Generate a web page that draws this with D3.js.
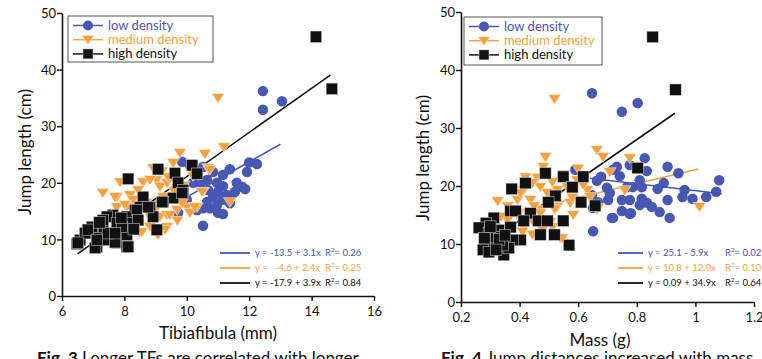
<!DOCTYPE html>
<html><head><meta charset="utf-8">
<script src="https://cdn.jsdelivr.net/npm/d3@7"></script>
<style>
body{margin:0;background:#fff;}
svg{display:block;font-family:Lato,"Open Sans",sans-serif;}
</style></head><body>
<svg id="c" width="762" height="359"></svg>
<script>
// ---------- DATA ----------
const seriesNames = ["low density","medium density","high density"];
const yTicks = [0,10,20,30,40,50];
const leftXTicks = [6,8,10,12,14,16];
const rightXTicks = [0.2,0.4,0.6,0.8,1,1.2];
const rightXTickLabels = ["0.2","0.4","0.6","0.8","1","1.2"];

// Panel 1: Tibiafibula (mm) vs jump length (cm)
const leftLow = [[12.44,36.2],[13.05,34.4],[12.44,32.9],[12.25,23.3],[11.93,21.9],[11.38,22.4],[11.16,21.4],[10.84,21.9],[10.65,20.5],[10.97,20.0],[11.16,19.4],[11.6,20.0],[11.77,19.3],[11.87,18.9],[11.45,17.8],[11.29,17.8],[11.0,18.4],[10.68,18.7],[10.42,19.6],[10.2,20.0],[9.85,23.7],[10.1,23.1],[10.52,22.8],[10.65,16.6],[10.52,15.5],[10.74,15.5],[10.97,16.1],[11.16,17.0],[11.38,16.4],[11.0,14.7],[11.16,14.5],[10.33,15.2],[10.0,17.0],[9.72,14.7],[10.52,12.4],[10.26,21.9],[10.84,17.5],[11.54,18.4],[12.0,23.6]];
const leftMed = [[11.0,35.0],[9.78,25.3],[10.58,25.1],[11.19,26.3],[9.56,23.5],[10.68,22.6],[10.74,22.3],[8.92,22.6],[9.04,20.5],[8.6,20.1],[8.82,20.5],[7.86,20.1],[7.31,18.2],[7.76,17.5],[8.18,17.8],[8.44,18.7],[9.14,19.3],[9.37,20.0],[9.24,17.5],[8.08,15.7],[8.82,14.0],[9.14,14.0],[9.37,14.3],[9.69,15.2],[10.0,15.7],[10.33,15.7],[10.1,14.7],[9.37,12.2],[8.82,12.2],[8.5,11.3],[9.04,11.1],[11.38,16.6],[10.52,18.4],[9.4,21.0],[8.27,17.0],[7.76,15.7],[8.08,14.3],[8.02,16.1],[8.56,11.3],[9.3,11.7],[9.08,10.8],[9.46,14.3],[10.26,15.7],[10.49,18.4],[8.98,15.2],[9.85,16.4],[7.7,17.5],[9.6,18.5],[9.9,19.5],[8.7,16.5],[10.2,21.2],[9.2,22.0],[8.4,14.5],[9.7,13.3]];
const leftHigh = [[9.08,22.4],[8.12,20.7],[10.17,23.1],[10.33,21.6],[9.62,21.7],[9.72,20.0],[9.88,18.7],[9.56,17.3],[9.24,16.6],[8.6,17.5],[8.82,15.7],[8.5,15.7],[8.34,15.2],[8.92,14.0],[9.04,11.7],[7.63,14.3],[7.44,14.0],[8.08,14.0],[7.76,12.9],[7.31,12.0],[6.99,12.0],[6.8,11.1],[6.58,9.9],[6.48,9.2],[7.12,8.7],[7.76,9.4],[8.08,8.7],[7.54,10.8],[7.92,11.1],[8.18,12.9],[7.12,10.2],[7.44,9.9],[9.85,18.2],[8.4,15.2],[8.76,15.7],[8.44,13.4],[7.31,13.4],[6.96,12.2],[6.74,11.1],[6.51,9.4],[7.06,8.5],[7.7,9.5],[8.12,8.7],[8.08,10.8],[7.47,11.1],[7.92,12.2],[6.83,11.7],[7.12,9.9],[7.7,11.1],[14.14,45.8],[14.65,36.6],[9.21,16.6],[7.2,13.0],[7.9,13.8],[8.3,11.8]];

// Panel 2: Mass (g) vs jump length (cm)
const rightLow = [[0.647,36.0],[0.803,34.3],[0.749,32.8],[0.827,24.8],[0.905,23.3],[0.942,22.2],[1.081,21.0],[1.071,19.0],[0.99,17.8],[0.963,19.3],[0.956,18.1],[0.892,20.5],[0.871,19.5],[0.834,22.6],[0.81,21.0],[0.817,19.8],[0.786,19.8],[0.766,19.8],[0.742,21.7],[0.719,22.8],[0.732,23.3],[0.776,23.6],[0.678,21.6],[0.664,20.9],[0.698,19.7],[0.708,18.8],[0.702,17.6],[0.749,17.6],[0.776,17.6],[0.817,17.8],[0.834,17.1],[0.851,16.4],[0.81,16.7],[0.878,15.5],[0.749,15.7],[0.776,15.2],[0.719,14.5],[0.912,14.5],[0.905,17.6],[0.651,12.2],[0.59,22.8],[0.647,18.4],[0.668,17.2],[0.651,16.2],[1.037,18.1],[0.78,15.3],[0.715,14.5]];
const rightMed = [[0.519,35.0],[0.664,26.2],[0.685,25.0],[0.776,24.8],[0.488,25.0],[0.481,23.3],[0.708,22.4],[0.759,19.3],[1.014,16.4],[0.325,17.4],[0.461,21.4],[0.471,19.8],[0.414,19.3],[0.393,17.6],[0.437,17.6],[0.495,18.8],[0.529,19.3],[0.563,19.8],[0.597,21.0],[0.631,19.3],[0.607,17.6],[0.573,17.1],[0.529,16.4],[0.495,17.1],[0.471,15.9],[0.427,15.3],[0.393,15.0],[0.359,14.1],[0.336,14.7],[0.447,13.8],[0.505,13.8],[0.549,14.1],[0.583,15.0],[0.641,18.1],[0.664,15.9],[0.539,11.0],[0.478,12.4],[0.414,12.8],[0.41,12.1],[0.444,11.6],[0.546,11.0],[0.512,12.9],[0.471,15.3],[0.668,16.2],[0.403,18.8],[0.444,20.5],[0.512,20.7],[0.617,20.2],[0.55,22.0],[0.6,23.0],[0.42,21.5],[0.58,18.0],[0.36,16.5],[0.52,16.0],[0.45,16.5]];
const rightHigh = [[0.854,45.7],[0.932,36.6],[0.803,23.1],[0.488,22.2],[0.549,21.6],[0.617,21.6],[0.42,20.5],[0.373,19.5],[0.522,18.3],[0.58,19.8],[0.498,17.2],[0.61,17.2],[0.658,16.6],[0.369,15.7],[0.386,15.7],[0.437,15.3],[0.414,14.0],[0.464,14.0],[0.495,14.0],[0.549,14.0],[0.471,11.6],[0.519,11.6],[0.569,9.8],[0.312,14.5],[0.285,13.6],[0.261,12.8],[0.295,11.9],[0.329,12.4],[0.369,12.9],[0.403,10.7],[0.376,10.7],[0.308,10.3],[0.275,9.0],[0.295,8.6],[0.346,8.1],[0.363,9.3],[0.342,9.8],[0.319,11.2],[0.3,13.0],[0.33,10.8],[0.28,11.0],[0.35,11.5],[0.32,9.0]];

// regression fits: intercept, slope, x-range, label
const leftFits = [
  {a:-13.5,b:3.1,x0:9.85,x1:13.0,eq:"y = -13.5 + 3.1x",r2:"0.26"},
  {a:-4.6,b:2.4,x0:7.3,x1:11.4,eq:"y =   -4.6 + 2.4x",r2:"0.25"},
  {a:-17.9,b:3.9,x0:6.5,x1:14.6,eq:"y = -17.9 + 3.9x",r2:"0.84"}];
const rightFits = [
  {a:25.1,b:-5.9,x0:0.64,x1:1.09,eq:"y = 25.1 - 5.9x",r2:"0.02"},
  {a:10.8,b:12.0,x0:0.33,x1:1.01,eq:"y = 10.8 + 12.0x",r2:"0.10"},
  {a:0.09,b:34.9,x0:0.27,x1:0.93,eq:"y = 0.09 + 34.9x",r2:"0.64"}];

// ---------- STYLE ----------
const colors = ["#4757b4","#f7a03c","#111111"];
const svg = d3.select("#c");

function marker(g, type, x, y, s){
  if(type===0){
    g.append("circle").attr("cx",x).attr("cy",y).attr("r",s*0.5).attr("fill",colors[0]);
  } else if(type===1){
    const w=s*0.55, h=s*0.85;
    g.append("path").attr("d",`M${x-w},${y-h*0.45}L${x+w},${y-h*0.45}L${x},${y+h*0.55}Z`)
      .attr("fill",colors[1]).attr("stroke","#fff").attr("stroke-width",0.5);
  } else {
    g.append("rect").attr("x",x-s*0.5).attr("y",y-s*0.5).attr("width",s).attr("height",s)
      .attr("fill",colors[2]).attr("stroke","#ddd").attr("stroke-width",0.5);
  }
}

function panel(cfg){
  const g = svg.append("g");
  const x = d3.scaleLinear().domain(cfg.xd).range(cfg.xr);
  const y = d3.scaleLinear().domain([0,50]).range(cfg.yr);

  // regression lines (below points)
  cfg.fits.forEach((f,i)=>{
    g.append("line").attr("x1",x(f.x0)).attr("y1",y(f.a+f.b*f.x0))
      .attr("x2",x(f.x1)).attr("y2",y(f.a+f.b*f.x1))
      .attr("stroke",colors[i]).attr("stroke-width",1.6);
  });
  // points
  const pts = g.append("g");
  cfg.data[0].forEach(d=>marker(pts,0,x(d[0]),y(d[1]),10.5));
  cfg.data[1].forEach(d=>marker(pts,1,x(d[0]),y(d[1]),11.5));
  cfg.data[2].forEach(d=>marker(pts,2,x(d[0]),y(d[1]),11.5));

  // axes
  const ax = g.append("g").attr("transform",`translate(0,${cfg.yr[0]})`)
    .call(d3.axisBottom(x).tickValues(cfg.xt).tickFormat((d,i)=>cfg.xl[i]).tickSize(5).tickSizeOuter(0));
  const ay = g.append("g").attr("transform",`translate(${cfg.xr[0]},0)`)
    .call(d3.axisLeft(y).tickValues(yTicks).tickSize(5).tickSizeOuter(0));
  [ax,ay].forEach(a=>{
    a.select(".domain").attr("stroke","#111").attr("stroke-width",1.6);
    a.selectAll(".tick line").attr("stroke","#111").attr("stroke-width",1.4);
    a.selectAll(".tick text").attr("fill","#111").style("font-size","13px").style("font-family","Lato,sans-serif");
  });
  ax.selectAll(".tick text").attr("dy",cfg.xdy);
  ay.selectAll(".tick text").attr("x",-6).attr("dy","0.36em");

  // axis titles
  g.append("text").attr("x",cfg.xtx).attr("y",cfg.xty).attr("text-anchor","middle")
    .style("font-size","17px").attr("fill","#111").text(cfg.xtitle);
  g.append("text").attr("transform",`translate(${cfg.ytx},${cfg.yty}) rotate(-90)`)
    .attr("text-anchor","middle").style("font-size","17px").attr("fill","#111").text("Jump length (cm)");

  // legend
  const L = cfg.leg;
  g.append("rect").attr("x",L.x).attr("y",L.y).attr("width",L.w).attr("height",L.h)
    .attr("fill","#fff").attr("stroke","#555").attr("stroke-width",1);
  seriesNames.forEach((n,i)=>{
    const yy = L.y+9.5+i*14.2;
    g.append("line").attr("x1",L.x+5).attr("x2",L.x+35).attr("y1",yy).attr("y2",yy)
      .attr("stroke",colors[i]).attr("stroke-width",1.5);
    marker(g,i,L.x+20,yy,i===0?10:(i===1?11:10));
    g.append("text").attr("x",L.x+40).attr("y",yy+4.3).style("font-size","13px")
      .attr("fill",i===2?"#111":colors[i]).text(n);
  });

  // regression legend
  const R = cfg.reg;
  cfg.fits.forEach((f,i)=>{
    const yy = R.y+i*15;
    g.append("line").attr("x1",R.x).attr("x2",R.x+R.len).attr("y1",yy).attr("y2",yy)
      .attr("stroke",colors[i]).attr("stroke-width",1.8);
    const c = i===2?"#111":colors[i];
    g.append("text").attr("x",R.x+R.len+5).attr("y",yy+3.3).style("font-size","9.5px")
      .style("white-space","pre").attr("xml:space","preserve").attr("fill",c).text(f.eq);
    const t = g.append("text").attr("x",R.rx).attr("y",yy+3.3).style("font-size","9.5px").attr("fill",c);
    t.append("tspan").text("R");
    t.append("tspan").attr("dy",-4).style("font-size","6px").text("2");
    t.append("tspan").attr("dy",4).text("= "+f.r2);
  });
}

panel({xd:[6,16],xr:[62,374],yr:[296,13],xt:leftXTicks,xl:leftXTicks.map(String),xdy:"0.95em",
  data:[leftLow,leftMed,leftHigh],fits:leftFits,xtitle:"Tibiafibula (mm)",xtx:218,xty:339,ytx:31,yty:152,
  leg:{x:68,y:16,w:145,h:46},reg:{x:220,y:253,len:30,rx:325}});
panel({xd:[0.2,1.2],xr:[461,754],yr:[302,12],xt:rightXTicks,xl:rightXTickLabels,xdy:"0.9em",
  data:[rightLow,rightMed,rightHigh],fits:rightFits,xtitle:"Mass (g)",xtx:600,xty:346,ytx:429,yty:158,
  leg:{x:464,y:17,w:138,h:48},reg:{x:618,y:253,len:25,rx:725}});

// cut-off captions at the bottom
const cap = svg.append("g").style("font-size","17px").attr("fill","#111");
const c1 = cap.append("text").attr("x",37).attr("y",364);
c1.append("tspan").style("font-weight","bold").text("Fig. 3 ");
c1.append("tspan").text("Longer TFs are correlated with longer");
const c2 = cap.append("text").attr("x",441).attr("y",364);
c2.append("tspan").style("font-weight","bold").text("Fig. 4 ");
c2.append("tspan").text("Jump distances increased with mass");
</script>
</body></html>
